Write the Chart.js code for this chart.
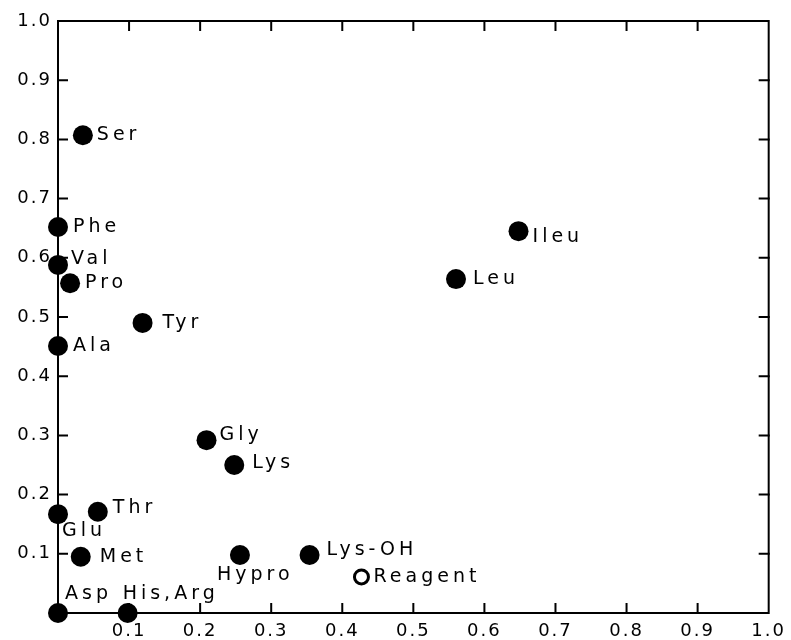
<!DOCTYPE html>
<html><head><meta charset="utf-8">
<script src="https://cdn.jsdelivr.net/npm/chart.js@4"></script>
<style>html,body{margin:0;padding:0;background:#fff}canvas{display:block}</style>
</head><body>
<canvas id="c" width="791" height="640"></canvas>
<script>
const names   = ['Ser','Phe','Val','Pro','Tyr','Ala','Ileu','Leu','Gly','Lys','Thr','Glu','Met','Hypro','Lys-OH','Asp','His,Arg'];
const xValues = [0.035,0,0,0.017,0.119,0,0.648,0.560,0.209,0.248,0.056,0,0.032,0.256,0.354,0,0.098];
const yValues = [0.807,0.652,0.588,0.557,0.490,0.451,0.645,0.564,0.292,0.250,0.171,0.167,0.095,0.098,0.098,0,0];
const reagentNames = ['Reagent'];
const reagentX = [0.427];
const reagentY = [0.061];
const xTickLabels = ['','0.1','0.2','0.3','0.4','0.5','0.6','0.7','0.8','0.9','1.0'];
const yTickLabels = ['','0.1','0.2','0.3','0.4','0.5','0.6','0.7','0.8','0.9','1.0'];

// label placement (offset of text from marker centre), kept apart from data
const labelPlacement = {
  'Ser':[14,0],'Phe':[15,0],'Val':[13,-6],'Pro':[15,0],'Tyr':[20,0],'Ala':[15,0],
  'Ileu':[14,6],'Leu':[17,0],'Gly':[13,-5],'Lys':[18,-2],'Thr':[15,-4],'Glu':[4,17],
  'Met':[19,0],'Hypro':[-23,20],'Lys-OH':[17,-5],'Asp':[7,-19],'His,Arg':[-5,-19],
  'Reagent':[12,0]
};

const FONT = '"DejaVu Sans", sans-serif';

const spacingPlugin = {
  id:'spacing',
  beforeDraw(chart){ chart.ctx.letterSpacing = '2px'; }
};

const framePlugin = {
  id:'frame',
  afterDatasetsDraw(chart){
    const {ctx, chartArea:a, scales:{x,y}} = chart;
    ctx.save();
    ctx.strokeStyle = '#000';
    ctx.lineWidth = 2;
    ctx.lineCap = 'square';
    ctx.strokeRect(a.left, a.top, a.right - a.left, a.bottom - a.top);
    const L = 9;
    ctx.beginPath();
    x.ticks.forEach(t => {
      if (t.value <= 0 || t.value >= 1) return;
      const px = x.getPixelForValue(t.value);
      ctx.moveTo(px, a.bottom); ctx.lineTo(px, a.bottom - L);
      ctx.moveTo(px, a.top); ctx.lineTo(px, a.top + L);
    });
    y.ticks.forEach(t => {
      if (t.value <= 0 || t.value >= 1) return;
      const py = y.getPixelForValue(t.value);
      ctx.moveTo(a.left, py); ctx.lineTo(a.left + L, py);
      ctx.moveTo(a.right, py); ctx.lineTo(a.right - L, py);
    });
    ctx.stroke();
    ctx.restore();
  }
};

const labelPlugin = {
  id:'pointLabels',
  afterDraw(chart){
    const ctx = chart.ctx;
    ctx.save();
    ctx.letterSpacing = '4px';
    ctx.font = '19px ' + FONT;
    ctx.fillStyle = '#000';
    ctx.textAlign = 'left';
    ctx.textBaseline = 'middle';
    chart.data.datasets.forEach((ds, di) => {
      const meta = chart.getDatasetMeta(di);
      meta.data.forEach((el, i) => {
        const name = ds.names[i];
        const off = labelPlacement[name] || [12,0];
        ctx.fillText(name, el.x + off[0], el.y + off[1]);
      });
    });
    ctx.restore();
  }
};

new Chart(document.getElementById('c'), {
  type:'scatter',
  data:{
    datasets:[
      {
        names: names,
        data: xValues.map((v,i) => ({x:v, y:yValues[i]})),
        pointRadius:10, pointHoverRadius:10,
        backgroundColor:'#000', borderColor:'#000', borderWidth:0,
        clip:false
      },
      {
        names: reagentNames,
        data: reagentX.map((v,i) => ({x:v, y:reagentY[i]})),
        pointRadius:7, pointHoverRadius:7,
        backgroundColor:'#fff', borderColor:'#000', borderWidth:3,
        clip:false
      }
    ]
  },
  options:{
    responsive:false,
    devicePixelRatio:1,
    animation:false,
    layout:{padding:{top:21, right:19, left:0, bottom:0}},
    plugins:{legend:{display:false}, tooltip:{enabled:false}},
    scales:{
      x:{
        type:'linear', min:0, max:1,
        grid:{display:false, drawTicks:false},
        border:{display:false},
        afterFit(s){ s.height = 27; },
        ticks:{
          stepSize:0.1, padding:8, color:'#000', maxRotation:0, autoSkip:false,
          font:{family:FONT, size:18},
          callback:(v,i) => xTickLabels[i]
        }
      },
      y:{
        type:'linear', min:0, max:1,
        grid:{display:false, drawTicks:false},
        border:{display:false},
        afterFit(s){ s.width = 58; },
        ticks:{
          stepSize:0.1, padding:6, color:'#000', autoSkip:false,
          font:{family:FONT, size:18},
          callback:(v,i) => yTickLabels[i]
        }
      }
    }
  },
  plugins:[spacingPlugin, framePlugin, labelPlugin]
});
</script>
</body></html>
